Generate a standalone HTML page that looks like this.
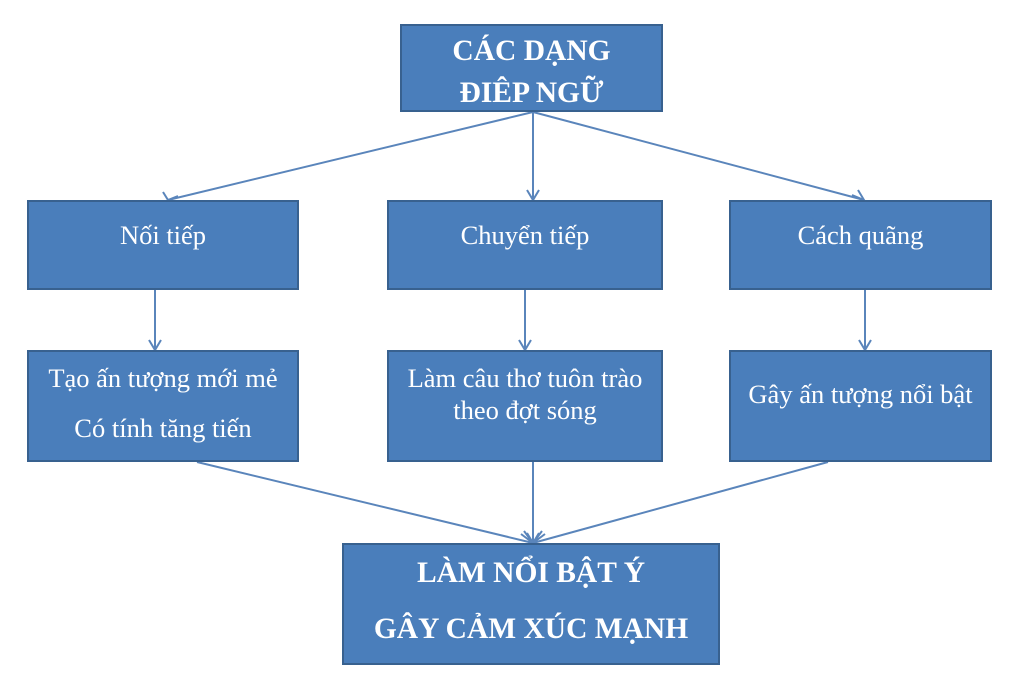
<!DOCTYPE html>
<html><head><meta charset="utf-8"><style>
body{margin:0;width:1024px;height:694px;background:#fff;overflow:hidden;position:relative;font-family:"Liberation Serif",serif;}
.b{position:absolute;background:#4a7ebb;border:2px solid #38618f;box-sizing:border-box;color:#fff;display:flex;flex-direction:column;align-items:center;justify-content:center;text-align:center;font-size:26.5px;white-space:nowrap;}
.bold{font-weight:bold;font-size:29.5px;}
svg{position:absolute;left:0;top:0}
</style></head><body>
<svg width="1024" height="694">
<g stroke="#5a85bb" stroke-width="2" fill="none">
<line x1="533" y1="112" x2="168" y2="200"/>
<line x1="533" y1="112" x2="533" y2="200"/>
<line x1="533" y1="112" x2="864" y2="200"/>
<line x1="155" y1="289" x2="155" y2="350"/>
<line x1="525" y1="289" x2="525" y2="350"/>
<line x1="865" y1="289" x2="865" y2="350"/>
<line x1="197" y1="462" x2="533" y2="543"/>
<line x1="533" y1="462" x2="533" y2="543"/>
<line x1="828" y1="462" x2="533" y2="543"/>
<polyline points="163,192 168,200 178,196"/>
<polyline points="527,190 533,200 539,190"/>
<polyline points="852,195 864,200 858,190"/>
<polyline points="149,340 155,350 161,340"/>
<polyline points="519,340 525,350 531,340"/>
<polyline points="859,340 865,350 871,340"/>
<polyline points="521,534 533,543 524,531"/>
<polyline points="527,533 533,543 539,533"/>
<polyline points="542,531 533,543 545,534"/>
</g></svg>
<div class="b bold" style="left:400px;top:24px;width:263px;height:88px;line-height:42px;padding-top:8px">CÁC DẠNG<br>ĐIÊP NGỮ</div>
<div class="b" style="left:27px;top:200px;width:272px;height:90px;padding-bottom:20px">Nối tiếp</div>
<div class="b" style="left:387px;top:200px;width:276px;height:90px;padding-bottom:20px">Chuyển tiếp</div>
<div class="b" style="left:729px;top:200px;width:263px;height:90px;padding-bottom:20px">Cách quãng</div>
<div class="b" style="left:27px;top:350px;width:272px;height:112px;line-height:50px;padding-bottom:6px">Tạo ấn tượng mới mẻ<br>Có tính tăng tiến</div>
<div class="b" style="left:387px;top:350px;width:276px;height:112px;line-height:32px;padding-bottom:24px">Làm câu thơ tuôn trào<br>theo đợt sóng</div>
<div class="b" style="left:729px;top:350px;width:263px;height:112px;padding-bottom:24px">Gây ấn tượng nổi bật</div>
<div class="b bold" style="left:342px;top:543px;width:378px;height:122px;line-height:56px;padding-bottom:6px">LÀM NỔI BẬT Ý<br>GÂY CẢM XÚC MẠNH</div>
</body></html>
